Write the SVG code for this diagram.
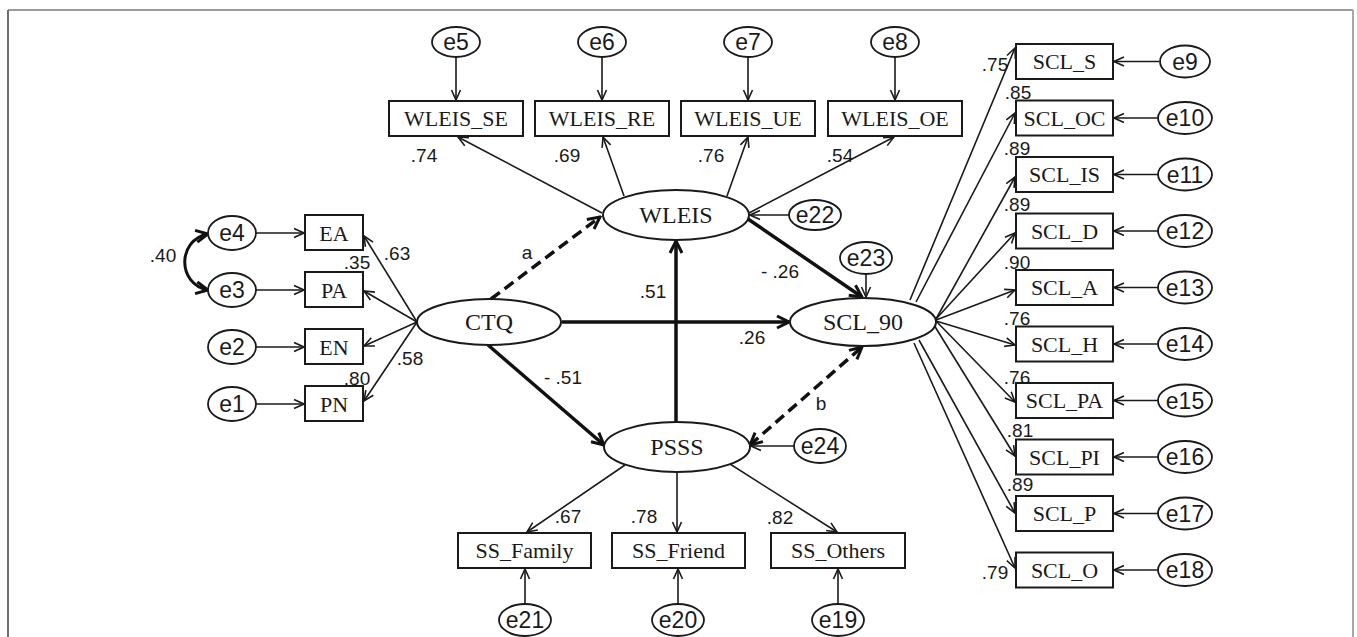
<svg xmlns="http://www.w3.org/2000/svg" width="1357" height="637" viewBox="0 0 1357 637">
  <style>
    .box { fill: #fff; stroke: #1a1a1a; stroke-width: 2; }
    .lat { fill: #fff; stroke: #1a1a1a; stroke-width: 2; }
    .err { fill: #fff; stroke: #1a1a1a; stroke-width: 1.8; }
    .tn { font-family: "Liberation Serif", "Times New Roman", serif; font-size: 22px; fill: #1a1a1a; text-anchor: middle; dominant-baseline: central; }
    .tl { font-family: "Liberation Serif", "Times New Roman", serif; font-size: 24px; fill: #1a1a1a; text-anchor: middle; dominant-baseline: central; }
    .te { font-family: "Liberation Sans", Arial, sans-serif; font-size: 23px; fill: #1a1a1a; text-anchor: middle; dominant-baseline: central; }
    .num { font-family: "Liberation Sans", Arial, sans-serif; font-size: 19px; fill: #1a1a1a; text-anchor: middle; dominant-baseline: central; }
    .thin { stroke: #1a1a1a; stroke-width: 1.6; fill: none; marker-end: url(#ah); }
    .thick { stroke: #111; stroke-width: 3.5; fill: none; marker-end: url(#ahT); }
    .dash { stroke: #111; stroke-width: 3.5; fill: none; stroke-dasharray: 11 6; marker-end: url(#ahT); }
  </style>
  <defs>
    <marker id="ah" viewBox="0 0 12 12" refX="11" refY="6" markerWidth="12" markerHeight="12" markerUnits="userSpaceOnUse" orient="auto-start-reverse">
      <path d="M1,1.5 L11,6 L1,10.5" fill="none" stroke="#1a1a1a" stroke-width="1.6"/>
    </marker>
    <marker id="ahT" viewBox="0 0 16 16" refX="14" refY="8" markerWidth="16" markerHeight="16" markerUnits="userSpaceOnUse" orient="auto-start-reverse">
      <path d="M2,2 L14,8 L2,14" fill="none" stroke="#111" stroke-width="3"/>
    </marker>
  </defs>

  <!-- page frame -->
  <g id="frame" fill="none">
    <line x1="8" y1="10" x2="1353" y2="10" stroke="#9a9a9a" stroke-width="2"/>
    <line x1="8" y1="10" x2="8" y2="637" stroke="#6e6e6e" stroke-width="2"/>
    <line x1="1353" y1="10" x2="1353" y2="637" stroke="#a8a8a8" stroke-width="2"/>
  </g>

  <!-- connectors -->
  <g id="connectors">
    <!-- CTQ indicators -->
    <line class="thin" x1="256" y1="233" x2="304" y2="233"/>
    <line class="thin" x1="256" y1="290" x2="304" y2="290"/>
    <line class="thin" x1="256" y1="347" x2="304" y2="347"/>
    <line class="thin" x1="256" y1="404" x2="304" y2="404"/>
    <line class="thin" x1="417" y1="322" x2="364" y2="236"/>
    <line class="thin" x1="417" y1="322" x2="364" y2="291"/>
    <line class="thin" x1="417" y1="322" x2="364" y2="346"/>
    <line class="thin" x1="417" y1="322" x2="364" y2="401"/>
    <path d="M208,234 C177,240 177,284 208,290" stroke="#111" stroke-width="3" fill="none" marker-start="url(#ahT)" marker-end="url(#ahT)"/>

    <!-- WLEIS indicators -->
    <line class="thin" x1="456" y1="57" x2="456" y2="100"/>
    <line class="thin" x1="602" y1="57" x2="602" y2="100"/>
    <line class="thin" x1="748" y1="57" x2="748" y2="100"/>
    <line class="thin" x1="895" y1="57" x2="895" y2="100"/>
    <line class="thin" x1="602" y1="213" x2="458" y2="137"/>
    <line class="thin" x1="624" y1="196" x2="603" y2="137"/>
    <line class="thin" x1="727" y1="196" x2="748" y2="137"/>
    <line class="thin" x1="749" y1="213" x2="894" y2="137"/>
    <line class="thin" x1="790" y1="215" x2="750" y2="215"/>

    <!-- structural paths -->
    <line class="dash" x1="491" y1="299" x2="600" y2="217"/>
    <line class="thick" x1="748" y1="219" x2="862" y2="297"/>
    <line class="thick" x1="562" y1="322" x2="789" y2="322"/>
    <line class="thick" x1="488" y1="345" x2="604" y2="445"/>
    <line class="thick" x1="676" y1="422" x2="676" y2="241"/>
    <line class="dash" x1="750" y1="445" x2="862" y2="347" marker-start="url(#ahT)"/>
    <line class="thin" x1="866" y1="274" x2="866" y2="297"/>
    <line class="thin" x1="795" y1="446" x2="751" y2="446"/>

    <!-- PSSS indicators -->
    <line class="thin" x1="625" y1="465" x2="527" y2="532"/>
    <line class="thin" x1="677" y1="472" x2="677" y2="532"/>
    <line class="thin" x1="730" y1="464" x2="837" y2="532"/>
    <line class="thin" x1="525" y1="604" x2="525" y2="569"/>
    <line class="thin" x1="678" y1="604" x2="678" y2="569"/>
    <line class="thin" x1="838" y1="604" x2="838" y2="569"/>

    <!-- SCL_90 indicators -->
    <line class="thin" x1="910" y1="300" x2="1015" y2="48"/>
    <line class="thin" x1="916" y1="302" x2="1015" y2="113"/>
    <line class="thin" x1="936" y1="319" x2="1015" y2="177"/>
    <line class="thin" x1="936" y1="319" x2="1015" y2="233"/>
    <line class="thin" x1="936" y1="320" x2="1015" y2="290"/>
    <line class="thin" x1="936" y1="321" x2="1015" y2="345"/>
    <line class="thin" x1="936" y1="321" x2="1015" y2="402"/>
    <line class="thin" x1="934" y1="325" x2="1015" y2="456"/>
    <line class="thin" x1="919" y1="340" x2="1015" y2="513"/>
    <line class="thin" x1="914" y1="343" x2="1015" y2="568"/>
    <line class="thin" x1="1159" y1="61.5" x2="1114" y2="61.5"/>
    <line class="thin" x1="1158" y1="118" x2="1114" y2="118"/>
    <line class="thin" x1="1158" y1="174.5" x2="1114" y2="174.5"/>
    <line class="thin" x1="1158" y1="231" x2="1114" y2="231"/>
    <line class="thin" x1="1158" y1="287.5" x2="1114" y2="287.5"/>
    <line class="thin" x1="1158" y1="344" x2="1114" y2="344"/>
    <line class="thin" x1="1158" y1="400.5" x2="1114" y2="400.5"/>
    <line class="thin" x1="1158" y1="457" x2="1114" y2="457"/>
    <line class="thin" x1="1158" y1="513.5" x2="1114" y2="513.5"/>
    <line class="thin" x1="1158" y1="570" x2="1114" y2="570"/>
  </g>

  <!-- path coefficients and loadings -->
  <g id="labels">
    <text class="num" x="163" y="255">.40</text>
    <text class="num" x="397" y="253">.63</text>
    <text class="num" x="357" y="262">.35</text>
    <text class="num" x="410" y="358">.58</text>
    <text class="num" x="357" y="378">.80</text>
    <text class="num" x="424" y="155">.74</text>
    <text class="num" x="567" y="155">.69</text>
    <text class="num" x="711" y="155">.76</text>
    <text class="num" x="840" y="155">.54</text>
    <text class="num" x="527" y="252">a</text>
    <text class="num" x="653" y="291">.51</text>
    <text class="num" x="780" y="271">- .26</text>
    <text class="num" x="752" y="337">.26</text>
    <text class="num" x="563" y="377">- .51</text>
    <text class="num" x="821" y="403">b</text>
    <text class="num" x="568" y="516">.67</text>
    <text class="num" x="644" y="516">.78</text>
    <text class="num" x="780" y="517">.82</text>
    <text class="num" x="995" y="64">.75</text>
    <text class="num" x="1018" y="92">.85</text>
    <text class="num" x="1017" y="148">.89</text>
    <text class="num" x="1017" y="204">.89</text>
    <text class="num" x="1017" y="262">.90</text>
    <text class="num" x="1017" y="318">.76</text>
    <text class="num" x="1017" y="377">.76</text>
    <text class="num" x="1020" y="430">.81</text>
    <text class="num" x="1020" y="484">.89</text>
    <text class="num" x="995" y="572">.79</text>
  </g>

  <!-- latent variables -->
  <g id="CTQ"><ellipse class="lat" cx="489" cy="322" rx="72" ry="23"/><text class="tl" x="489" y="322">CTQ</text></g>
  <g id="WLEIS"><ellipse class="lat" cx="676" cy="215" rx="73" ry="25"/><text class="tl" x="676" y="215">WLEIS</text></g>
  <g id="PSSS"><ellipse class="lat" cx="677" cy="447" rx="73" ry="25"/><text class="tl" x="677" y="447">PSSS</text></g>
  <g id="SCL_90"><ellipse class="lat" cx="863" cy="322" rx="73" ry="24"/><text class="tl" x="863" y="322">SCL_90</text></g>

  <!-- CTQ observed -->
  <g id="EA"><rect class="box" x="305" y="215" width="58" height="35"/><text class="tn" x="334" y="233">EA</text></g>
  <g id="PA"><rect class="box" x="305" y="272" width="58" height="35"/><text class="tn" x="334" y="290">PA</text></g>
  <g id="EN"><rect class="box" x="305" y="329" width="58" height="35"/><text class="tn" x="334" y="347">EN</text></g>
  <g id="PN"><rect class="box" x="305" y="386" width="58" height="35"/><text class="tn" x="334" y="404">PN</text></g>
  <g id="e4"><ellipse class="err" cx="232" cy="233" rx="24" ry="17"/><text class="te" x="232" y="233">e4</text></g>
  <g id="e3"><ellipse class="err" cx="232" cy="290" rx="24" ry="17"/><text class="te" x="232" y="290">e3</text></g>
  <g id="e2"><ellipse class="err" cx="232" cy="347" rx="24" ry="17"/><text class="te" x="232" y="347">e2</text></g>
  <g id="e1"><ellipse class="err" cx="232" cy="404" rx="24" ry="17"/><text class="te" x="232" y="404">e1</text></g>

  <!-- WLEIS observed -->
  <g id="WLEIS_SE"><rect class="box" x="389" y="101" width="134" height="35"/><text class="tn" x="456" y="118">WLEIS_SE</text></g>
  <g id="WLEIS_RE"><rect class="box" x="535" y="101" width="134" height="35"/><text class="tn" x="602" y="118">WLEIS_RE</text></g>
  <g id="WLEIS_UE"><rect class="box" x="681" y="101" width="134" height="35"/><text class="tn" x="748" y="118">WLEIS_UE</text></g>
  <g id="WLEIS_OE"><rect class="box" x="828" y="101" width="134" height="35"/><text class="tn" x="895" y="118">WLEIS_OE</text></g>
  <g id="e5"><ellipse class="err" cx="456" cy="42" rx="24" ry="15"/><text class="te" x="456" y="42">e5</text></g>
  <g id="e6"><ellipse class="err" cx="602" cy="42" rx="24" ry="15"/><text class="te" x="602" y="42">e6</text></g>
  <g id="e7"><ellipse class="err" cx="748" cy="42" rx="24" ry="15"/><text class="te" x="748" y="42">e7</text></g>
  <g id="e8"><ellipse class="err" cx="895" cy="42" rx="24" ry="15"/><text class="te" x="895" y="42">e8</text></g>
  <g id="e22"><ellipse class="err" cx="815" cy="215" rx="26" ry="15"/><text class="te" x="815" y="215">e22</text></g>
  <g id="e23"><ellipse class="err" cx="866" cy="258" rx="26" ry="16"/><text class="te" x="866" y="258">e23</text></g>
  <g id="e24"><ellipse class="err" cx="820" cy="446" rx="26" ry="17"/><text class="te" x="820" y="446">e24</text></g>

  <!-- PSSS observed -->
  <g id="SS_Family"><rect class="box" x="458" y="533" width="133" height="35"/><text class="tn" x="524.5" y="550.5">SS_Family</text></g>
  <g id="SS_Friend"><rect class="box" x="612" y="533" width="133" height="35"/><text class="tn" x="678.5" y="550.5">SS_Friend</text></g>
  <g id="SS_Others"><rect class="box" x="771" y="533" width="134" height="35"/><text class="tn" x="838" y="550.5">SS_Others</text></g>
  <g id="e21"><ellipse class="err" cx="525" cy="620" rx="26" ry="16"/><text class="te" x="525" y="620">e21</text></g>
  <g id="e20"><ellipse class="err" cx="678" cy="620" rx="26" ry="16"/><text class="te" x="678" y="620">e20</text></g>
  <g id="e19"><ellipse class="err" cx="838" cy="620" rx="26" ry="16"/><text class="te" x="838" y="620">e19</text></g>

  <!-- SCL_90 observed -->
  <g id="SCL_S"><rect class="box" x="1016" y="44" width="97" height="35"/><text class="tn" x="1064.5" y="61.5">SCL_S</text></g>
  <g id="SCL_OC"><rect class="box" x="1016" y="100.5" width="97" height="35"/><text class="tn" x="1064.5" y="118">SCL_OC</text></g>
  <g id="SCL_IS"><rect class="box" x="1016" y="157" width="97" height="35"/><text class="tn" x="1064.5" y="174.5">SCL_IS</text></g>
  <g id="SCL_D"><rect class="box" x="1016" y="213.5" width="97" height="35"/><text class="tn" x="1064.5" y="231">SCL_D</text></g>
  <g id="SCL_A"><rect class="box" x="1016" y="270" width="97" height="35"/><text class="tn" x="1064.5" y="287.5">SCL_A</text></g>
  <g id="SCL_H"><rect class="box" x="1016" y="326.5" width="97" height="35"/><text class="tn" x="1064.5" y="344">SCL_H</text></g>
  <g id="SCL_PA"><rect class="box" x="1016" y="383" width="97" height="35"/><text class="tn" x="1064.5" y="400.5">SCL_PA</text></g>
  <g id="SCL_PI"><rect class="box" x="1016" y="439.5" width="97" height="35"/><text class="tn" x="1064.5" y="457">SCL_PI</text></g>
  <g id="SCL_P"><rect class="box" x="1016" y="496" width="97" height="35"/><text class="tn" x="1064.5" y="513.5">SCL_P</text></g>
  <g id="SCL_O"><rect class="box" x="1016" y="552.5" width="97" height="35"/><text class="tn" x="1064.5" y="570">SCL_O</text></g>
  <g id="e9"><ellipse class="err" cx="1185" cy="61.5" rx="25" ry="16"/><text class="te" x="1185" y="61.5">e9</text></g>
  <g id="e10"><ellipse class="err" cx="1185" cy="118" rx="27" ry="16"/><text class="te" x="1185" y="118">e10</text></g>
  <g id="e11"><ellipse class="err" cx="1185" cy="174.5" rx="27" ry="16"/><text class="te" x="1185" y="174.5">e11</text></g>
  <g id="e12"><ellipse class="err" cx="1185" cy="231" rx="27" ry="16"/><text class="te" x="1185" y="231">e12</text></g>
  <g id="e13"><ellipse class="err" cx="1185" cy="287.5" rx="27" ry="16"/><text class="te" x="1185" y="287.5">e13</text></g>
  <g id="e14"><ellipse class="err" cx="1185" cy="344" rx="27" ry="16"/><text class="te" x="1185" y="344">e14</text></g>
  <g id="e15"><ellipse class="err" cx="1185" cy="400.5" rx="27" ry="16"/><text class="te" x="1185" y="400.5">e15</text></g>
  <g id="e16"><ellipse class="err" cx="1185" cy="457" rx="27" ry="16"/><text class="te" x="1185" y="457">e16</text></g>
  <g id="e17"><ellipse class="err" cx="1185" cy="513.5" rx="27" ry="16"/><text class="te" x="1185" y="513.5">e17</text></g>
  <g id="e18"><ellipse class="err" cx="1185" cy="570" rx="27" ry="16"/><text class="te" x="1185" y="570">e18</text></g>
</svg>
